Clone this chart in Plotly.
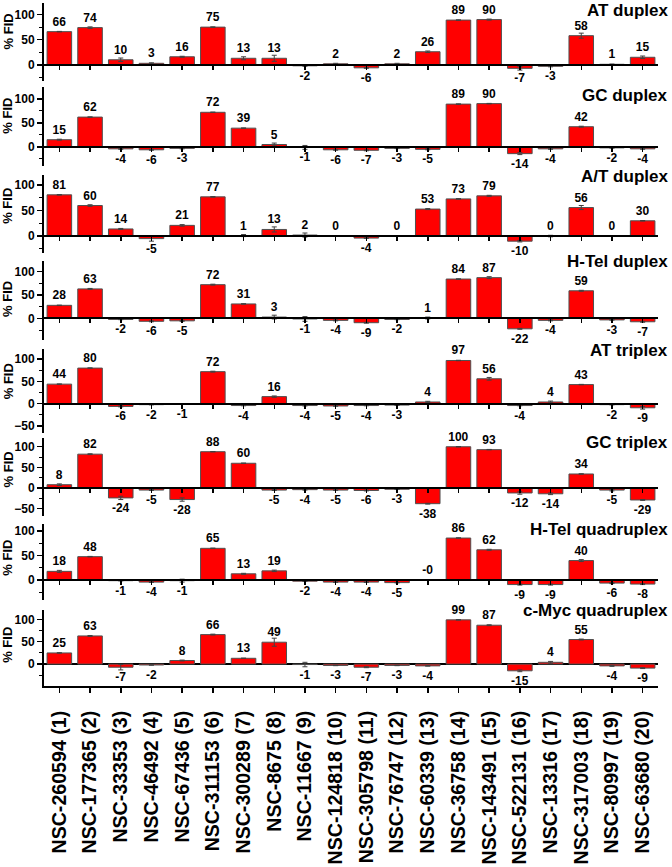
import plotly.graph_objects as go

categories = ["NSC-260594 (1)", "NSC-177365 (2)", "NSC-33353 (3)", "NSC-46492 (4)", "NSC-67436 (5)",
              "NSC-311153 (6)", "NSC-300289 (7)", "NSC-8675 (8)", "NSC-11667 (9)", "NSC-124818 (10)",
              "NSC-305798 (11)", "NSC-76747 (12)", "NSC-60339 (13)", "NSC-36758 (14)", "NSC-143491 (15)",
              "NSC-522131 (16)", "NSC-13316 (17)", "NSC-317003 (18)", "NSC-80997 (19)", "NSC-63680 (20)"]

panel_titles = ["AT duplex", "GC duplex", "A/T duplex", "H-Tel duplex",
                "AT triplex", "GC triplex", "H-Tel quadruplex", "c-Myc quadruplex"]

at_duplex = [66, 74, 10, 3, 16, 75, 13, 13, -2, 2, -6, 2, 26, 89, 90, -7, -3, 58, 1, 15]
at_duplex_err = [0.5, 1.5, 3.5, 1, 1, 0.5, 3, 6, 1, 1, 1, 1, 1.5, 0.5, 1, 3.5, 1, 5, 0.5, 2.5]

gc_duplex = [15, 62, -4, -6, -3, 72, 39, 5, -1, -6, -7, -3, -5, 89, 90, -14, -4, 42, -2, -4]
gc_duplex_err = [1, 0.5, 1, 1, 1, 0.5, 0.5, 3, 4, 1, 1, 0.5, 1, 0.5, 0.5, 2, 1, 1, 0.5, 1]

at_ab_duplex = [81, 60, 14, -5, 21, 77, 1, 13, 2, 0, -4, 0, 53, 73, 79, -10, 0, 56, 0, 30]
at_ab_duplex_err = [0.5, 1.5, 1, 5, 1.5, 0.5, 2, 5, 4, 0.5, 0.5, 0.5, 1, 0.5, 1, 1.5, 1.5, 4, 0.5, 0.5]

htel_duplex = [28, 63, -2, -6, -5, 72, 31, 3, -1, -4, -9, -2, 1, 84, 87, -22, -4, 59, -3, -7]
htel_duplex_err = [0.5, 1, 0.5, 1, 1, 1, 0.5, 4, 5, 1, 1, 0.5, 2, 0.5, 2, 1, 1, 1, 0.5, 1]

at_triplex = [44, 80, -6, -2, -1, 72, -4, 16, -4, -5, -4, -3, 4, 97, 56, -4, 4, 43, -2, -9]
at_triplex_err = [0.5, 0.5, 1, 0.5, 0.5, 1, 0.5, 1.5, 1, 0.5, 0.5, 0.5, 1.5, 0.5, 3, 0.5, 2, 0.5, 0.5, 3]

gc_triplex = [8, 82, -24, -5, -28, 88, 60, -5, -4, -5, -6, -3, -38, 100, 93, -12, -14, 34, -5, -29]
gc_triplex_err = [2, 1, 4, 1, 4, 0.5, 0.5, 1, 1, 0.5, 1, 0.5, 1, 0.5, 0.5, 3, 2, 0.5, 2, 1]

htel_quad = [18, 48, -1, -4, -1, 65, 13, 19, -2, -4, -4, -5, -0.0, 86, 62, -9, -9, 40, -6, -8]
htel_quad_err = [2, 0.5, 0.5, 0.5, 3, 0.5, 1, 1.5, 0.5, 0.5, 0.5, 0.5, 0.5, 0.5, 1, 1, 1, 2, 1, 1]

cmyc_quad = [25, 63, -7, -2, 8, 66, 13, 49, -1, -3, -7, -3, -4, 99, 87, -15, 4, 55, -4, -9]
cmyc_quad_err = [0.5, 1, 6, 0.5, 1, 1, 0.5, 9, 5, 0.5, 1, 0.5, 0.5, 0.5, 1, 2, 2, 1, 1, 1]

series = [at_duplex, gc_duplex, at_ab_duplex, htel_duplex, at_triplex, gc_triplex, htel_quad, cmyc_quad]
errors = [at_duplex_err, gc_duplex_err, at_ab_duplex_err, htel_duplex_err,
          at_triplex_err, gc_triplex_err, htel_quad_err, cmyc_quad_err]

y_ranges = [[-33, 123], [-39, 124], [-33, 119], [-46, 123], [-66, 123], [-69, 121], [-40, 114], [-49, 122]]

# layout geometry (pixels)
W, H = 672, 867
ML, MR, MT, MB = 44, 14, 3, 167
plot_top, plot_bot = MT, H - MB
panel_px = [(3, 83), (89, 169), (179, 258), (266, 347), (356, 442), (447, 527), (535, 612), (622, 700)]
title_px = [11, 97, 180, 267, 358, 451, 540, 623]
ylab_px = [32, 118, 210, 305, 389, 479, 569, 658]

def fy(px):
    return (plot_bot - px) / (plot_bot - plot_top)

def fx(px):
    return (px - ML) / (W - ML - MR)

FONT = "Liberation Sans, Arial, sans-serif"

fig = go.Figure()
layout = dict(
    width=W, height=H,
    margin=dict(l=ML, r=MR, t=MT, b=MB),
    paper_bgcolor="white", plot_bgcolor="white",
    showlegend=False,
    font=dict(family=FONT, color="black"),
    bargap=0.2,
)
annotations = []

for i in range(8):
    sfx = "" if i == 0 else str(i + 1)
    vals = series[i]
    texts = [f"<b>{v:.0f}</b>" for v in vals]
    fig.add_trace(go.Bar(
        x=categories, y=vals,
        xaxis="x" + sfx, yaxis="y" + sfx,
        marker=dict(color="#FF0000", line=dict(color="#505050", width=1)),
        error_y=dict(type="data", array=errors[i], visible=True, color="#404040", thickness=1, width=2.5),
        text=texts, textposition="outside", constraintext="none", cliponaxis=False,
        outsidetextfont=dict(family=FONT, size=12, color="black"),
        width=0.8,
    ))
    d0, d1 = fy(panel_px[i][1]), fy(panel_px[i][0])
    ymin, ymax = y_ranges[i]
    zero_pos = d0 + (0 - ymin) / (ymax - ymin) * (d1 - d0)
    ya = dict(
        domain=[d0, d1], range=y_ranges[i], anchor="x" + sfx,
        showline=True, linecolor="black", linewidth=2,
        ticks="outside", ticklen=5, tickwidth=1.5, tickcolor="black",
        tickvals=[-50, 0, 50, 100],
        tickfont=dict(family=FONT, size=12, color="black", weight="bold"),
        minor=dict(ticks="outside", ticklen=3, tickwidth=1, tickcolor="black", tickvals=[-25, 25, 75]),
        showgrid=False, zeroline=False, fixedrange=True,
    )
    xa = dict(
        domain=[0, 1], type="category", range=[-0.5, 19.5],
        showline=True, linecolor="black", linewidth=2,
        ticks="outside", ticklen=4, tickwidth=1.5, tickcolor="black",
        showgrid=False, zeroline=False, fixedrange=True,
    )
    if i < 7:
        xa.update(anchor="free", position=zero_pos, showticklabels=False)
    else:
        xa.update(anchor="y" + sfx, showticklabels=True, tickangle=-90, ticklen=5,
                  tickfont=dict(family=FONT, size=19.6, color="black", weight="bold"),
                  ticklabelstandoff=10)
        ya.update(zeroline=True, zerolinecolor="black", zerolinewidth=2)
    layout["xaxis" + sfx] = xa
    layout["yaxis" + sfx] = ya

    annotations.append(dict(
        text="<b>" + panel_titles[i] + "</b>", xref="paper", yref="paper",
        x=fx(670), y=fy(title_px[i]), xanchor="right", yanchor="middle",
        showarrow=False, font=dict(family=FONT, size=17, color="black"),
    ))
    annotations.append(dict(
        text="<b>% FID</b>", xref="paper", yref="paper", textangle=-90,
        x=fx(8), y=fy(ylab_px[i]), xanchor="center", yanchor="middle",
        showarrow=False, font=dict(family=FONT, size=13, color="black"),
    ))

layout["annotations"] = annotations
fig.update_layout(**layout)
fig.write_html("out.html",
               config={"displayModeBar": False, "staticPlot": True},
               post_script="document.body.style.margin='0';document.body.style.overflow='hidden';")
